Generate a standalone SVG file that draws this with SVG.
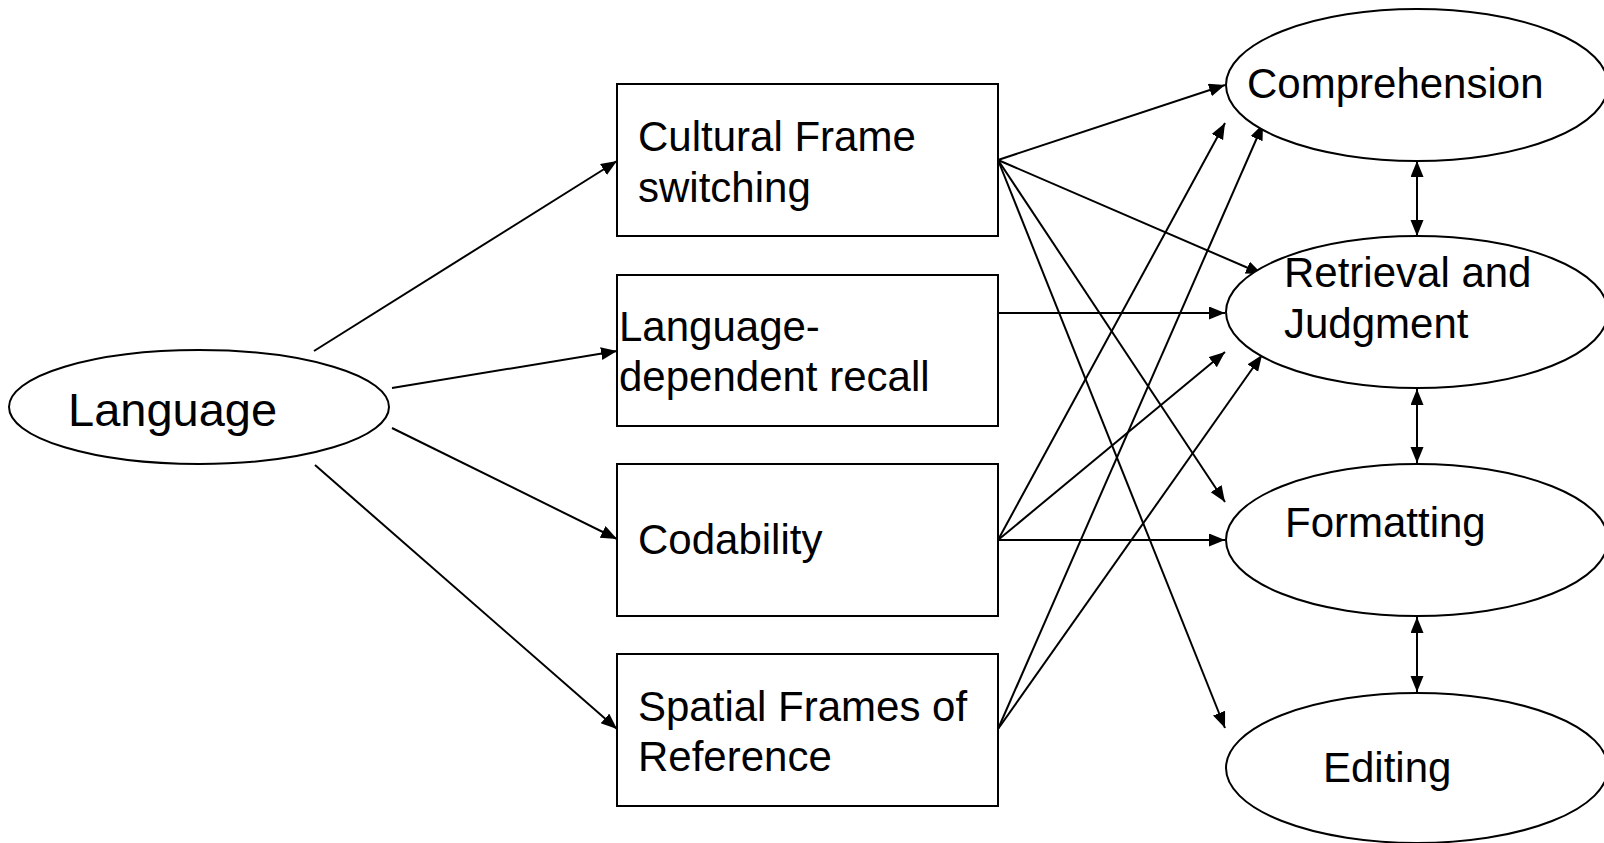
<svg xmlns="http://www.w3.org/2000/svg" width="1604" height="843" viewBox="0 0 1604 843">
<style>
.n{fill:#fff;stroke:#000;stroke-width:2}
.t{font-family:"Liberation Sans",Arial,sans-serif;font-size:42px;fill:#000}
.c line{stroke:#000;stroke-width:2;marker-end:url(#ah)}
.c line.d{marker-start:url(#ah)}
</style>
<defs>
<marker id="ah" markerUnits="userSpaceOnUse" markerWidth="18" markerHeight="14" refX="16" refY="6.5" orient="auto-start-reverse">
<path d="M0,0 L16,6.5 L0,13 Z" fill="#000"/>
</marker>
</defs>
<rect width="1604" height="843" fill="#fff"/>
<g class="c" id="connectors">
<line x1="314" y1="351" x2="617" y2="161"/>
<line x1="392" y1="388" x2="617" y2="351"/>
<line x1="392" y1="428" x2="617" y2="539"/>
<line x1="315" y1="465" x2="617" y2="729"/>
<line x1="998" y1="160" x2="1225" y2="85"/>
<line x1="998" y1="160" x2="1262" y2="274"/>
<line x1="998" y1="160" x2="1225" y2="502"/>
<line x1="998" y1="160" x2="1225" y2="728"/>
<line x1="998" y1="313" x2="1225" y2="313"/>
<line x1="998" y1="540" x2="1225" y2="123"/>
<line x1="998" y1="540" x2="1225" y2="352"/>
<line x1="998" y1="540" x2="1225" y2="540"/>
<line x1="998" y1="729" x2="1263" y2="124"/>
<line x1="998" y1="729" x2="1262" y2="355"/>
<line class="d" x1="1417" y1="161" x2="1417" y2="236"/>
<line class="d" x1="1417" y1="389" x2="1417" y2="463"/>
<line class="d" x1="1417" y1="617" x2="1417" y2="692"/>
</g>
<g id="language"><ellipse class="n" cx="199" cy="407" rx="190" ry="57"/><text class="t" x="68" y="426" style="font-size:47px">Language</text></g>
<g id="cultural"><rect class="n" x="617" y="84" width="381" height="152"/><text class="t" x="638" y="151">Cultural Frame</text><text class="t" x="638" y="202">switching</text></g>
<g id="langdep"><rect class="n" x="617" y="275" width="381" height="151"/><text class="t" x="619" y="341">Language-</text><text class="t" x="619" y="391">dependent recall</text></g>
<g id="codability"><rect class="n" x="617" y="464" width="381" height="152"/><text class="t" x="638" y="554">Codability</text></g>
<g id="spatial"><rect class="n" x="617" y="654" width="381" height="152"/><text class="t" x="638" y="721">Spatial Frames of</text><text class="t" x="638" y="771">Reference</text></g>
<g id="comprehension"><ellipse class="n" cx="1417" cy="85" rx="191" ry="76"/><text class="t" x="1247" y="98">Comprehension</text></g>
<g id="retrieval"><ellipse class="n" cx="1417" cy="312" rx="191" ry="76"/><text class="t" x="1284" y="287">Retrieval and</text><text class="t" x="1284" y="338">Judgment</text></g>
<g id="formatting"><ellipse class="n" cx="1417" cy="540" rx="191" ry="76"/><text class="t" x="1285" y="537">Formatting</text></g>
<g id="editing"><ellipse class="n" cx="1417" cy="768" rx="191" ry="75"/><text class="t" x="1323" y="782">Editing</text></g>
</svg>
